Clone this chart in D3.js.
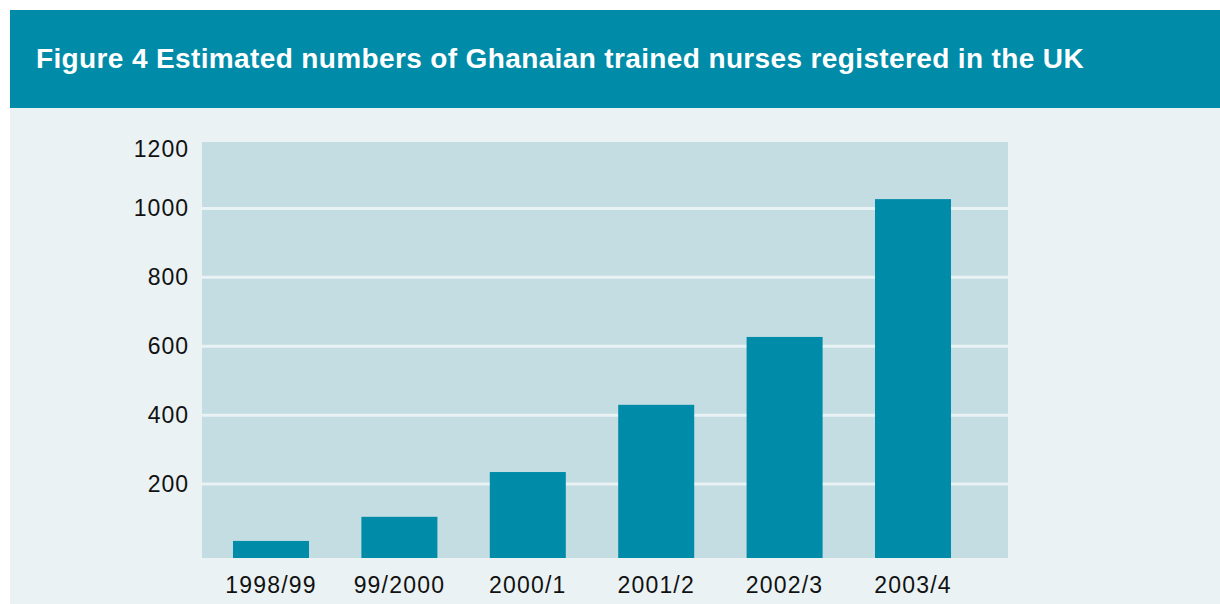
<!DOCTYPE html>
<html lang="en">
<head>
<meta charset="UTF-8">
<title>Figure 4 Ghanaian trained nurses</title>
<style>
html,body{margin:0; width:1220px; height:604px; overflow:hidden; background:#fff; font-family:"Liberation Sans", Arial, Helvetica, sans-serif;}
svg{display:block;}
</style>
</head>
<body>
<svg width="1220" height="604"></svg>
<script src="https://d3js.org/d3.v7.min.js"></script>
<script>
// data
const years = ["1998/99","99/2000","2000/1","2001/2","2002/3","2003/4"];
const nurses = [35,105,235,430,627,1027];
const yTicks = [200,400,600,800,1000,1200];
const title = "Figure 4 Estimated numbers of Ghanaian trained nurses registered in the UK";

const TEAL = "#008ca8", PANEL = "#eaf2f4", PLOT = "#c3dde3";
const svg = d3.select("svg");

// frame
svg.append("rect").attr("x",10).attr("y",10).attr("width",1210).attr("height",98).attr("fill",TEAL);
svg.append("rect").attr("x",10).attr("y",108).attr("width",1210).attr("height",496).attr("fill",PANEL);
svg.append("text").attr("x",36).attr("y",68)
  .attr("fill","#fff").style("font-size","28px").style("font-weight","bold")
  .style("letter-spacing","0.37px")
  .text(title);

const plot = {left:202, right:1008, top:142, bottom:558};
const y = d3.scaleLinear().domain([0,1200]).range([553,139.5]);
const x = d3.scaleBand().domain(years).range([206.8,977.2]).paddingInner(0.408).paddingOuter(0.204);

svg.append("rect").attr("x",plot.left).attr("y",plot.top)
  .attr("width",plot.right-plot.left).attr("height",plot.bottom-plot.top).attr("fill",PLOT);

// gridlines
svg.append("g").selectAll("line").data(yTicks.filter(d=>d<1200)).join("line")
  .attr("x1",plot.left).attr("x2",plot.right)
  .attr("y1",d=>y(d)).attr("y2",d=>y(d))
  .attr("stroke","#e9f2f4").attr("stroke-width",3);

// bars
svg.append("g").selectAll("rect").data(nurses).join("rect")
  .attr("x",(d,i)=>x(years[i])).attr("width",x.bandwidth())
  .attr("y",d=>y(d)).attr("height",d=>plot.bottom-y(d))
  .attr("fill",TEAL);

// y labels
svg.append("g").selectAll("text").data(yTicks).join("text")
  .attr("x",189).attr("y",d=>Math.max(y(d),148.5)).attr("dy","0.35em")
  .attr("text-anchor","end").attr("fill","#111").style("font-size","23px")
  .style("letter-spacing","1px")
  .text(d=>d);

// x labels
svg.append("g").selectAll("text").data(years).join("text")
  .attr("x",d=>x(d)+x.bandwidth()/2).attr("y",593)
  .attr("text-anchor","middle").attr("fill","#111").style("font-size","23px")
  .style("letter-spacing","1.2px")
  .text(d=>d);
</script>
</body>
</html>
